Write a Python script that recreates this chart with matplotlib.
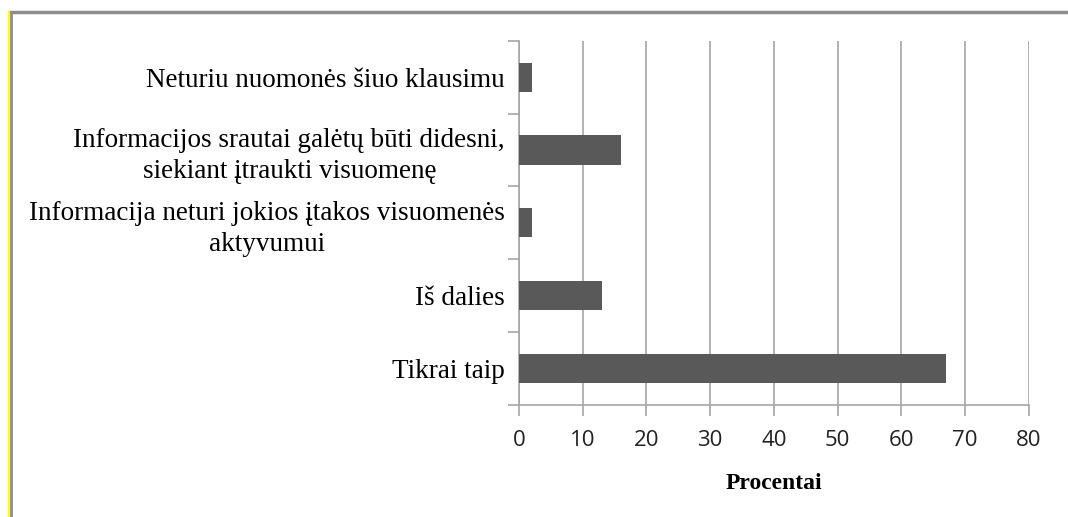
import matplotlib.pyplot as plt
from matplotlib.lines import Line2D

# categories from bottom to top
categories = ['Tikrai taip', 'Iš dalies',
              'Informacija neturi jokios įtakos visuomenės\naktyvumui',
              'Informacijos srautai galėtų būti didesni,\nsiekiant įtraukti visuomenę',
              'Neturiu nuomonės šiuo klausimu']
values = [67, 13, 2, 16, 2]
xticks = [0, 10, 20, 30, 40, 50, 60, 70, 80]

fig = plt.figure(figsize=(10.68, 5.17), dpi=100)
ax = fig.add_axes([519/1068, 1 - 405/517, (1028.6 - 519)/1068, (405 - 40.7)/517])

pos = list(range(len(categories)))
ax.barh(pos, values, height=0.4, color='#595959', zorder=3)
ax.set_xlim(0, 80)
ax.set_ylim(-0.5, len(categories) - 0.5)
ax.set_xticks(xticks)
ax.set_xticklabels([str(t) for t in xticks], fontsize=16, family='Open Sans', color='#222222')
ax.xaxis.grid(True, color='#a6a6a6', linewidth=1.2, zorder=0)

# category boundary ticks (major) and labels (minor)
ax.set_yticks([p - 0.5 for p in pos] + [len(categories) - 0.5])
ax.set_yticklabels([])
ax.set_yticks(pos, minor=True)
ax.set_yticklabels(categories, minor=True, fontsize=19.5, family='Liberation Serif',
                   multialignment='center', linespacing=1.3)
ax.tick_params(axis='y', which='minor', length=0, pad=10)
ax.tick_params(axis='y', which='major', length=8, color='#a6a6a6', width=1.2)
ax.tick_params(axis='x', length=8, color='#a6a6a6', width=1.2, pad=10)

for s in ['top', 'right']:
    ax.spines[s].set_visible(False)
for s in ['left', 'bottom']:
    ax.spines[s].set_color('#a6a6a6')
    ax.spines[s].set_linewidth(1.2)

ax.set_xlabel('Procentai', fontsize=17, family='Liberation Serif', fontweight='bold', labelpad=16)

# outer frame
fig.add_artist(Line2D([10/1068, 1], [1 - 12/517, 1 - 12/517], color='#8c8c8c', linewidth=2.5))
fig.add_artist(Line2D([10.5/1068, 10.5/1068], [0, 1 - 12/517], color='#8c8c8c', linewidth=2))
fig.add_artist(Line2D([8.5/1068, 8.5/1068], [0, 1 - 12/517], color='#ffff00', linewidth=1.5))

fig.savefig('out.png', dpi=100)
